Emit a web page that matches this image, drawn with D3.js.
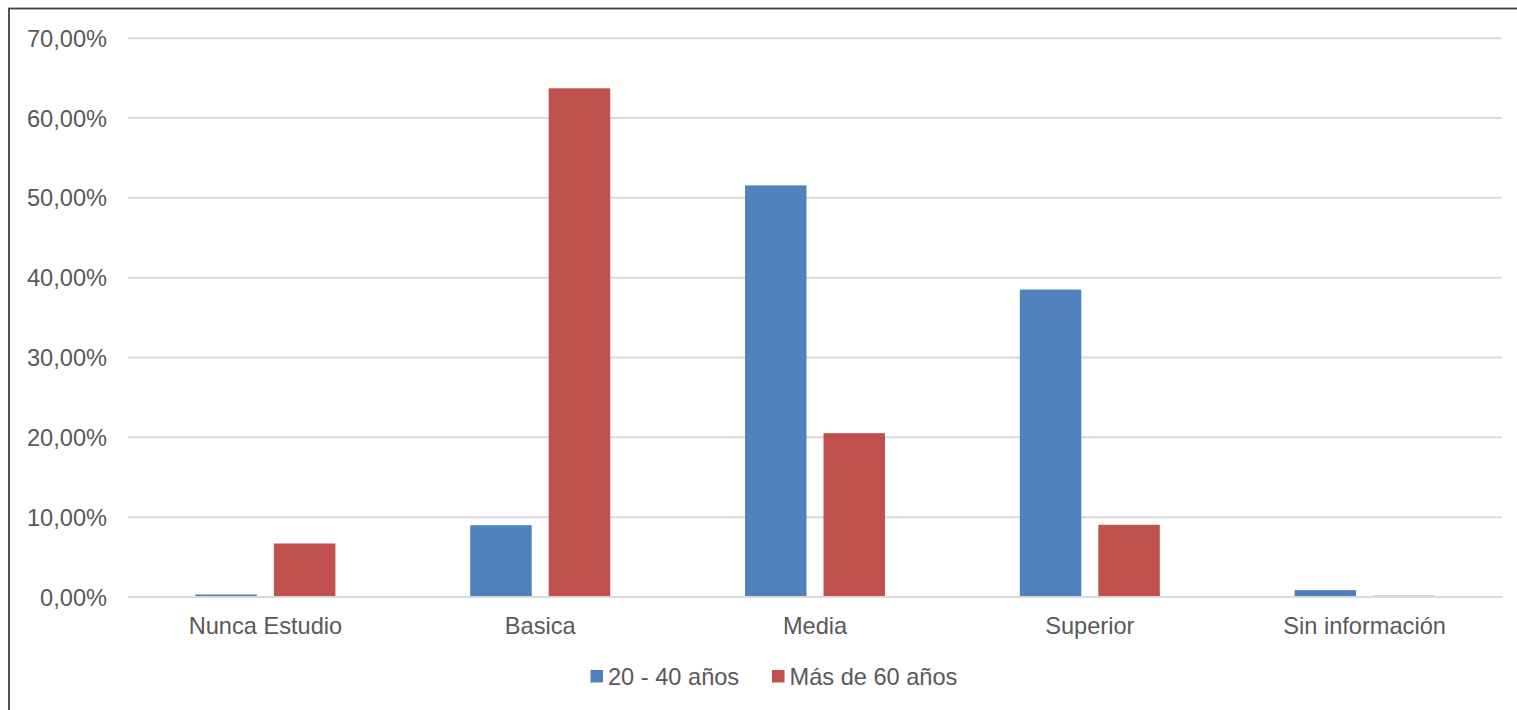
<!DOCTYPE html>
<html>
<head>
<meta charset="utf-8">
<script src="https://cdn.jsdelivr.net/npm/d3@7/dist/d3.min.js"></script>
<style>
  html, body { margin: 0; padding: 0; background: #ffffff; }
  svg { display: block; }
  text { font-family: "Liberation Sans", Arial, sans-serif; fill: #595959; }
</style>
</head>
<body>
<svg id="chart" width="1517" height="710"></svg>
<script>
const categories = ["Nunca Estudio", "Basica", "Media", "Superior", "Sin información"];
const seriesNames = ["20 - 40 años", "Más de 60 años"];
const serie2040 = [0.25, 8.93, 51.5, 38.45, 0.8];
const serieMas60 = [6.64, 63.66, 20.46, 8.98, 0.1];
const yTicks = [0, 10, 20, 30, 40, 50, 60, 70];
const colors = ["#4f81bd", "#c0504d"];

const svg = d3.select("#chart");
const W = 1517, H = 710;
const plot = { left: 128, right: 1502, top: 37.7, bottom: 596.5 };

// border
svg.append("rect")
  .attr("x", 9).attr("y", 8.5)
  .attr("width", W + 20).attr("height", H + 20)
  .attr("fill", "none").attr("stroke", "#404040").attr("stroke-width", 1.8);

const y = d3.scaleLinear().domain([0, 70]).range([plot.bottom, plot.top]);
const x0 = d3.scaleBand().domain(categories).range([plot.left, plot.right]).padding(0);
const cw = x0.bandwidth();
const groupW = cw * 0.5095;
const x1 = d3.scaleBand().domain(seriesNames)
  .range([(cw - groupW) / 2, (cw + groupW) / 2])
  .paddingInner(0.2166).paddingOuter(0);

const fmt = v => d3.format(".2f")(v).replace(".", ",") + "%";

// gridlines
const yAxis = d3.axisLeft(y).tickValues(yTicks).tickSize(-(plot.right - plot.left)).tickFormat(fmt).tickPadding(21);
const gy = svg.append("g").attr("transform", `translate(${plot.left},0)`).call(yAxis);
gy.select(".domain").remove();
gy.selectAll(".tick line").attr("stroke", "#d9d9d9").attr("stroke-width", 2);
gy.selectAll(".tick text")
  .attr("font-size", "23.6px")
  .style("fill", "#595959")
  .attr("font-family", "Liberation Sans, Arial, sans-serif")
  .attr("dy", "0.36em");

// bars
const data = categories.map((c, i) => ({ cat: c, values: [serie2040[i], serieMas60[i]] }));
const groups = svg.append("g").selectAll("g").data(data).join("g")
  .attr("transform", d => `translate(${x0(d.cat)},0)`);
groups.selectAll("rect").data(d => d.values.map((v, j) => ({ name: seriesNames[j], v, j })))
  .join("rect")
  .attr("x", d => x1(d.name))
  .attr("width", x1.bandwidth())
  .attr("y", d => y(d.v))
  .attr("height", d => y(0) - y(d.v))
  .attr("fill", d => colors[d.j]);

// baseline axis
const xAxis = d3.axisBottom(x0).tickSize(0).tickPadding(21);
const gx = svg.append("g").attr("transform", `translate(0,${plot.bottom})`).call(xAxis);
gx.select(".domain").attr("stroke", "#d9d9d9").attr("stroke-width", 2);
gx.selectAll(".tick text")
  .attr("font-size", "23.6px")
  .style("fill", "#595959")
  .attr("font-family", "Liberation Sans, Arial, sans-serif");

// legend
const legend = svg.append("g");
const legendX = [590.5, 772];
seriesNames.forEach((name, i) => {
  legend.append("rect")
    .attr("x", legendX[i]).attr("y", 670)
    .attr("width", 12.5).attr("height", 12.5)
    .attr("fill", colors[i]);
  legend.append("text")
    .attr("x", legendX[i] + 17.5).attr("y", 684.5)
    .attr("font-size", "23.6px")
    .text(name);
});
</script>
</body>
</html>
